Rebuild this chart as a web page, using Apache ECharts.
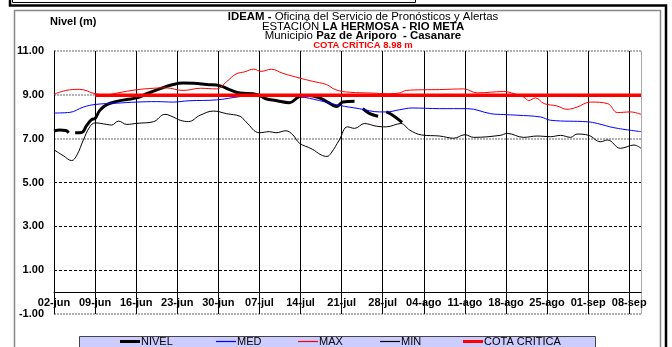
<!DOCTYPE html>
<html>
<head>
<meta charset="utf-8">
<script src="https://cdn.jsdelivr.net/npm/echarts@6/dist/echarts.min.js"></script>
<style>
  html, body { margin: 0; padding: 0; background: #fff; }
  #chart { width: 672px; height: 347px; }
</style>
</head>
<body>
<div id="chart"></div>
<script>
// Weekly date labels along the x axis (day 0 = 02-jun, one tick every 7 days)
var tickLabels = ['02-jun', '09-jun', '16-jun', '23-jun', '30-jun', '07-jul', '14-jul', '21-jul',
                  '28-jul', '04-ago', '11-ago', '18-ago', '25-ago', '01-sep', '08-sep'];

// Observed level [day, m]; null breaks the line where readings are missing
var nivel = [[0,7.35],[1,7.39],[2,7.37],[2.5,7.27],null,[3.6,7.27],[4.7,7.28],[5.6,7.62],[6.4,7.87],
  [7,7.92],[7.8,8.29],[9,8.55],[10.7,8.7],[12.4,8.79],[14.1,8.86],[15.8,9.05],[18,9.27],[20.3,9.47],
  [22,9.54],[23.8,9.53],[26,9.47],[28.3,9.41],[30,9.23],[31.7,9.08],[33.9,9.05],[35,8.97],[36.1,8.82],
  [37.8,8.74],[40.1,8.64],[41.8,8.92],[43.5,8.97],[45.2,8.86],[46.6,8.67],[48.1,8.47],[49.2,8.67],
  [51.2,8.71],null,[52.6,8.37],[53.8,8.14],[55.2,8.02],null,[56.6,8.22],[57.7,8.07],[59.3,7.74]];

// Historical mean level
var med = [[0,8.17],[2.7,8.2],[5,8.44],[7,8.56],[10.7,8.62],[14.1,8.67],[17.5,8.69],[20.3,8.67],
  [23,8.73],[27.7,8.77],[31.7,8.92],[35,9.0],[37.3,9.0],[41.8,8.92],[45.2,8.74],[48.6,8.52],[52,8.37],
  [55.5,8.22],[56.6,8.22],[58.9,8.32],[61,8.4],[65.7,8.37],[70.4,8.37],[74.4,8.14],[76.6,8.1],
  [78.9,8.07],[82.9,7.99],[84.6,7.84],[90.9,7.77],[92.6,7.69],[95.4,7.5],[100,7.32]];

// Historical maximum level
var max = [[0,9.02],[2,9.2],[4.4,9.25],[7,9.05],[9,9.0],[10.7,9.08],[14,9.23],[17,9.3],[19,9.32],
  [22,9.2],[25,9.3],[27.7,9.27],[29.4,9.6],[31,9.95],[32.5,10.05],[34,10.17],[35.3,10.07],[37,10.17],
  [39,9.98],[41.8,9.77],[44,9.62],[46.4,9.47],[48,9.23],[50.3,9.12],[54.3,9.08],[56.6,9.05],
  [58.9,9.09],[60,9.2],[62.8,9.23],[65.7,9.24],[69.8,9.27],[72.1,9.09],[76.6,9.15],[78.4,9.05],
  [80,8.9],[80.9,8.74],[82,8.86],[83.5,8.6],[85.7,8.49],[87.4,8.34],[89.1,8.44],[91.4,8.67],
  [94.3,8.6],[96,8.19],[98.2,8.22],[100,8.11]];

// Historical minimum level
var min = [[0,6.49],[1.6,6.22],[3,6.0],[3.9,6.25],[5,6.94],[6.1,7.54],[7,7.72],[9,7.65],[9.8,7.62],
  [11,7.8],[12.4,7.65],[14.1,7.7],[16.9,7.77],[18.9,8.11],[20.3,7.99],[21.5,7.84],[22.9,7.78],
  [24.9,8.07],[27.2,8.26],[29.4,8.14],[31.7,8.02],[32.7,7.77],[35,7.27],[36.7,7.32],[37.8,7.27],
  [39.5,7.36],[40.7,7.17],[41.8,6.8],[44,6.52],[45.5,6.26],[46.5,6.19],[47.2,6.34],[48.6,6.94],
  [50,7.54],[51.2,7.47],[52.9,7.69],[54.9,7.57],[56.6,7.54],[59.1,7.69],[60.6,7.39],[62.6,7.17],
  [65.7,7.12],[68.1,7.02],[70,7.18],[71.5,7.06],[76,7.15],[77.2,7.24],[80,7.06],[82.3,7.12],
  [84.6,7.09],[86.3,7.15],[88,7.06],[89.1,7.21],[91.1,7.15],[93.1,6.86],[94.3,6.94],[96.5,6.56],
  [98.8,6.71],[100,6.56]];

// Critical level and the day span it is drawn over
var cotaCritica = 8.98;
var cotaDays = [7, 100];

var FONT = '"Liberation Sans", Arial, sans-serif';
var T = 'rgba(0,0,0,0)';

// Plot area and y range; the date axis sits on the zero level inside the plot
var W = 672, H = 347;
var gridTop = 51, gridBottom = 33, gridLeft = 54, gridRight = 31;
var yMin = -1, yMax = 11;
var zeroOffset = -(H - gridTop - gridBottom) * (0 - yMin) / (yMax - yMin);

var chart = echarts.init(document.getElementById('chart'), null, { renderer: 'canvas' });

function legendItem(name, color, left, h) {
  return {
    data: [{ name: name, itemStyle: { color: color, borderColor: color, borderWidth: 0 } }],
    left: left, top: 336, icon: 'rect',
    itemWidth: 20, itemHeight: h, itemGap: 0, padding: 0,
    selectedMode: false,
    itemStyle: { color: color, borderWidth: 0, borderColor: color },
    lineStyle: { color: color },
    textStyle: { fontFamily: FONT, fontSize: 11, color: '#000', padding: [0, 0, 0, -4] }
  };
}

var rich = {
  b: { fontFamily: FONT, fontSize: 11.4, fontWeight: 'bold', fill: '#000' },
  n: { fontFamily: FONT, fontSize: 11.4, fill: '#000' }
};

function titleText(text, y) {
  return { type: 'text', z: 10, style: {
    text: text, x: 363, y: y, align: 'center', verticalAlign: 'middle', rich: rich } };
}

function lineSeries(name, data, color, width) {
  return { name: name, type: 'line', data: data, smooth: 0.4, symbol: 'none', connectNulls: false,
    lineStyle: { color: color, width: width },
    itemStyle: { color: color, borderColor: color } };
}

var option = {
  backgroundColor: '#fff',
  animation: false,
  legend: [
    legendItem('NIVEL', '#000', 120, 3),
    legendItem('MED', '#0000ff', 216, 1.2),
    legendItem('MAX', '#ff0000', 298, 1.2),
    legendItem('MIN', '#000', 380, 1.2),
    legendItem('COTA CRITICA', '#ff0000', 463, 3)
  ],
  graphic: [
    { type: 'rect', z: -10, shape: { x: 12.5, y: -5, width: 403, height: 7.5 },
      style: { fill: 'none', stroke: '#000', lineWidth: 1 } },
    { type: 'polyline', z: -10, shape: { points: [[10, -5], [10, 5.5], [666, 5.5], [666, 350]] },
      style: { fill: 'none', stroke: '#000', lineWidth: 2.5 } },
    { type: 'rect', z: -10, shape: { x: 14.5, y: 10.5, width: 646, height: 345 },
      style: { fill: '#fff', stroke: '#888', lineWidth: 1.5 } },
    { type: 'rect', z: -5, shape: { x: 79.5, y: 336.5, width: 516, height: 20 },
      style: { fill: '#ccccff', stroke: '#444', lineWidth: 1 } },
    titleText('{b|IDEAM -} {n|Oficina del Servicio de Pronósticos y Alertas}', 17),
    titleText('{n|ESTACIÓN} {b|LA HERMOSA - RIO META}', 26.5),
    titleText('{n|Municipio} {b|Paz de Ariporo  - Casanare}', 36),
    { type: 'text', z: 10, style: {
        text: 'COTA CRÍTICA ' + cotaCritica.toFixed(2) + ' m', x: 363, y: 45.5,
        align: 'center', verticalAlign: 'middle',
        fontFamily: FONT, fontSize: 9.5, fontWeight: 'bold', fill: '#ff0000' } },
    { type: 'text', z: 10, style: {
        text: 'Nivel (m)', x: 50, y: 21.5, align: 'left', verticalAlign: 'middle',
        fontFamily: FONT, fontSize: 11, fontWeight: 'bold', fill: '#000' } }
  ],
  grid: { left: gridLeft, right: gridRight, top: gridTop, bottom: gridBottom, containLabel: false },
  xAxis: {
    type: 'value', min: 0, max: 100, interval: 7,
    offset: zeroOffset,
    axisLine: { show: true, onZero: false, lineStyle: { color: '#000', width: 1 } },
    axisTick: { show: false },
    axisLabel: {
      margin: 5, fontFamily: FONT, fontSize: 11, fontWeight: 'bold', color: '#000',
      showMinLabel: true, showMaxLabel: true,
      formatter: function (v) { return v % 7 === 0 ? (tickLabels[v / 7] || '') : ''; }
    },
    splitLine: {
      show: true,
      lineStyle: { width: 1, color: ['#000', '#000', '#000', '#000', '#000', '#000', '#000', '#000',
        '#000', '#000', '#000', '#000', '#000', '#000', '#000', '#aaa'] }
    }
  },
  yAxis: [
    {
      type: 'value', min: yMin, max: yMax, interval: 2,
      axisLine: { show: true, lineStyle: { color: '#000', width: 1 } },
      axisTick: { show: false },
      axisLabel: {
        margin: 10, fontFamily: FONT, fontSize: 11, fontWeight: 'bold', color: '#000',
        formatter: function (v) { return v.toFixed(2); }
      },
      splitLine: { show: true, lineStyle: { type: [2, 1], width: 1.5,
        color: ['#999', T, T, T, '#999', '#999', '#999'] } }
    },
    {
      type: 'value', min: yMin, max: yMax, interval: 2, position: 'left',
      axisLine: { show: false }, axisTick: { show: false }, axisLabel: { show: false },
      splitLine: { show: true, lineStyle: { type: [3, 2], width: 1,
        color: [T, '#000', '#000', '#000', T, T, T] } }
    }
  ],
  series: [
    lineSeries('NIVEL', nivel, '#000', 3),
    lineSeries('MED', med, '#0000ff', 1),
    lineSeries('MAX', max, '#ff0000', 1),
    lineSeries('MIN', min, '#000', 1),
    { name: 'COTA CRITICA', type: 'line', symbol: 'none',
      data: cotaDays.map(function (d) { return [d, cotaCritica]; }),
      lineStyle: { color: '#ff0000', width: 3.5 },
      itemStyle: { color: '#ff0000', borderColor: '#ff0000' } }
  ]
};

chart.setOption(option);
</script>
</body>
</html>
